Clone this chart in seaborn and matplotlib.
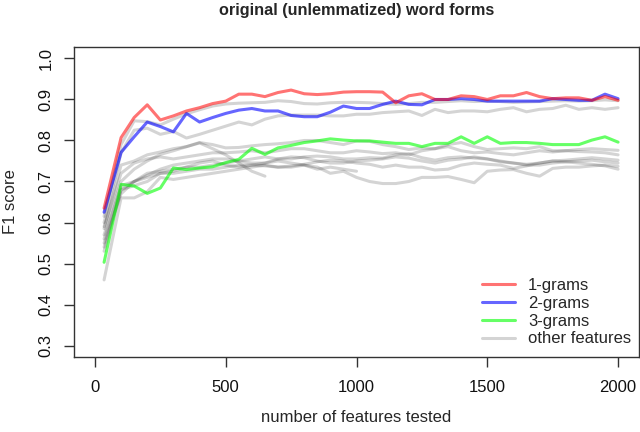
import numpy as np
import pandas as pd
import matplotlib
matplotlib.use("Agg")
import matplotlib.pyplot as plt
from matplotlib.lines import Line2D
import seaborn as sns

# number of features tested (x positions shared by all series)
features = [35, 100, 150, 200, 250, 300, 350, 400, 450, 500,
            550, 600, 650, 700, 750, 800, 850, 900, 950, 1000,
            1050, 1100, 1150, 1200, 1250, 1300, 1350, 1400, 1450, 1500,
            1550, 1600, 1650, 1700, 1750, 1800, 1850, 1900, 1950, 2000]

f1_1grams = [0.635, 0.807, 0.856, 0.887, 0.850, 0.860, 0.872, 0.880, 0.890, 0.896,
             0.913, 0.913, 0.907, 0.917, 0.923, 0.914, 0.912, 0.914, 0.918, 0.919,
             0.919, 0.918, 0.892, 0.909, 0.914, 0.900, 0.900, 0.909, 0.907, 0.900,
             0.909, 0.909, 0.917, 0.907, 0.902, 0.904, 0.904, 0.898, 0.907, 0.898]

f1_2grams = [0.625, 0.771, 0.809, 0.845, 0.834, 0.821, 0.866, 0.845, 0.856, 0.866,
             0.874, 0.878, 0.872, 0.872, 0.861, 0.858, 0.858, 0.869, 0.884, 0.878,
             0.878, 0.888, 0.896, 0.888, 0.887, 0.900, 0.900, 0.902, 0.900, 0.896,
             0.896, 0.896, 0.896, 0.896, 0.902, 0.900, 0.898, 0.898, 0.913, 0.902]

f1_3grams = [0.503, 0.693, 0.689, 0.671, 0.684, 0.733, 0.729, 0.733, 0.736, 0.746,
             0.754, 0.781, 0.766, 0.782, 0.788, 0.795, 0.799, 0.804, 0.801, 0.799,
             0.799, 0.796, 0.793, 0.793, 0.785, 0.793, 0.793, 0.809, 0.793, 0.809,
             0.793, 0.795, 0.795, 0.793, 0.790, 0.790, 0.790, 0.801, 0.809, 0.796]

# other feature types (grey lines), some stop early
other_a = [0.615, 0.790, 0.848, 0.846, 0.838, 0.852, 0.865, 0.875, 0.884, 0.889,
           0.891, 0.892, 0.893, 0.897, 0.895, 0.890, 0.889, 0.892, 0.893, 0.893,
           0.892, 0.890, 0.888, 0.890, 0.893, 0.893, 0.895, 0.897, 0.895, 0.896,
           0.895, 0.893, 0.894, 0.895, 0.896, 0.897, 0.896, 0.897, 0.899, 0.897]
other_b = [0.600, 0.770, 0.825, 0.830, 0.815, 0.822, 0.806, 0.815, 0.825, 0.835,
           0.845, 0.838, 0.852, 0.860, 0.862, 0.862, 0.862, 0.860, 0.860, 0.864,
           0.864, 0.868, 0.870, 0.872, 0.861, 0.876, 0.868, 0.872, 0.872, 0.870,
           0.876, 0.880, 0.870, 0.876, 0.878, 0.886, 0.876, 0.880, 0.876, 0.880]
other_c = [0.585, 0.740, 0.750, 0.765, 0.772, 0.780, 0.785, 0.795, 0.790, 0.782,
           0.783, 0.787, 0.790, 0.792, 0.795, 0.800, 0.800, 0.795, 0.790, 0.799,
           0.798, 0.790, 0.785, 0.778, 0.782, 0.780, 0.790, 0.795, 0.785, 0.778,
           0.780, 0.782, 0.780, 0.785, 0.775, 0.775, 0.773, 0.772, 0.770, 0.765]
other_d = [0.570, 0.700, 0.730, 0.750, 0.766, 0.775, 0.785, 0.794, 0.780, 0.765,
           0.745, 0.725, 0.713]
other_e = [0.560, 0.690, 0.700, 0.715, 0.730, 0.740, 0.745, 0.750, 0.755, 0.755,
           0.750, 0.755, 0.760, 0.755, 0.755, 0.760, 0.762, 0.760, 0.755, 0.755,
           0.758, 0.757, 0.765, 0.768, 0.758, 0.752, 0.758, 0.760, 0.757, 0.755,
           0.750, 0.745, 0.742, 0.745, 0.750, 0.752, 0.755, 0.758, 0.755, 0.752]
other_f = [0.550, 0.670, 0.700, 0.720, 0.725, 0.730, 0.735, 0.735, 0.740, 0.745,
           0.750, 0.745, 0.745, 0.755, 0.760, 0.758, 0.750, 0.745, 0.745, 0.750,
           0.752, 0.755, 0.760, 0.757, 0.750, 0.745, 0.752, 0.755, 0.760, 0.755,
           0.748, 0.745, 0.740, 0.740, 0.745, 0.748, 0.750, 0.752, 0.748, 0.745]
other_g = [0.590, 0.720, 0.745, 0.755, 0.760, 0.755, 0.760, 0.765, 0.770, 0.770,
           0.772, 0.775, 0.770, 0.775, 0.780, 0.780, 0.775, 0.770, 0.770, 0.775,
           0.772, 0.768, 0.770, 0.765, 0.775, 0.780, 0.785, 0.775, 0.770, 0.772,
           0.768, 0.765, 0.770, 0.775, 0.772, 0.775, 0.778, 0.780, 0.778, 0.776]
other_h = [0.460, 0.660, 0.660, 0.675, 0.710, 0.705, 0.710, 0.715, 0.720, 0.725,
           0.730, 0.735, 0.740, 0.735, 0.735, 0.740, 0.735, 0.720, 0.725, 0.710,
           0.700, 0.695, 0.695, 0.700, 0.710, 0.710, 0.712, 0.705, 0.697, 0.725,
           0.728, 0.729, 0.720, 0.713, 0.732, 0.735, 0.735, 0.738, 0.740, 0.737]
other_i = [0.540, 0.680, 0.700, 0.710, 0.720, 0.720, 0.725, 0.730, 0.730, 0.735,
           0.740, 0.740, 0.738, 0.735, 0.738, 0.742, 0.748, 0.752, 0.750, 0.745,
           0.742, 0.735, 0.740, 0.735, 0.735, 0.728, 0.730, 0.740, 0.745, 0.742,
           0.740, 0.732, 0.738, 0.745, 0.750, 0.748, 0.745, 0.742, 0.738, 0.730]
other_j = [0.530, 0.680, 0.690, 0.700, 0.720, 0.725, 0.735, 0.745, 0.750, 0.740,
           0.735, 0.740, 0.745, 0.750, 0.745, 0.740, 0.730, 0.735, 0.730, 0.725]

other_series = [other_a, other_b, other_c, other_d, other_e,
                other_f, other_g, other_h, other_i, other_j]

sns.set_style("ticks")
plt.rcParams['font.family'] = ['Liberation Sans', 'DejaVu Sans']

rows = []
for i, vals in enumerate(other_series):
    for x, v in zip(features, vals):
        rows.append({"features": x, "f1": v, "series": i})
other_df = pd.DataFrame(rows)

fig = plt.figure(figsize=(6.4, 4.32), dpi=100)
ax = fig.add_axes([74 / 640, 1 - 357 / 432, 565 / 640, 310 / 432])

lw = 2.2
sns.lineplot(data=other_df, x="features", y="f1", units="series", estimator=None,
             color="black", alpha=0.17, lw=lw, ax=ax, legend=False)
sns.lineplot(x=features, y=f1_3grams, color="#00ff00", alpha=0.6, lw=lw, ax=ax)
sns.lineplot(x=features, y=f1_2grams, color="#0000ff", alpha=0.6, lw=lw, ax=ax)
sns.lineplot(x=features, y=f1_1grams, color="#ff0000", alpha=0.55, lw=lw, ax=ax)

ax.set_xlim(-80, 2080)
ax.set_ylim(0.272, 1.028)
ax.set_xticks([0, 500, 1000, 1500, 2000])
ax.set_yticks([0.3, 0.4, 0.5, 0.6, 0.7, 0.8, 0.9, 1.0])
ax.set_yticklabels(["0.3", "0.4", "0.5", "0.6", "0.7", "0.8", "0.9", "1.0"])
plt.setp(ax.get_yticklabels(), rotation=90, va="center")

for side in ["left", "right", "top", "bottom"]:
    ax.spines[side].set_visible(True)
    ax.spines[side].set_color("#333333")
    ax.spines[side].set_linewidth(1.0)
ax.tick_params(axis="both", direction="out", length=7.5, width=1.0,
               color="#333333", labelsize=12, labelcolor="#111111")
ax.tick_params(axis="x", pad=9)
ax.tick_params(axis="y", pad=7)

ax.set_xlabel("number of features tested", fontsize=12, labelpad=11)
ax.set_ylabel("F1 score", fontsize=12, labelpad=15)
ax.set_title("original (unlemmatized) word forms", fontsize=11.7,
             fontweight="bold", pad=23)

handles = [
    Line2D([], [], color="#ff0000", alpha=0.55, lw=lw),
    Line2D([], [], color="#0000ff", alpha=0.6, lw=lw),
    Line2D([], [], color="#00ff00", alpha=0.6, lw=lw),
    Line2D([], [], color="black", alpha=0.17, lw=lw),
]
ax.legend(handles, ["1-grams", "2-grams", "3-grams", "other features"],
          loc="lower right", bbox_to_anchor=(0.986, 0.034), frameon=False,
          fontsize=12, handlelength=1.95, handletextpad=0.78,
          labelspacing=0.17, borderpad=0, borderaxespad=0)

fig.savefig("out.png", dpi=100)
